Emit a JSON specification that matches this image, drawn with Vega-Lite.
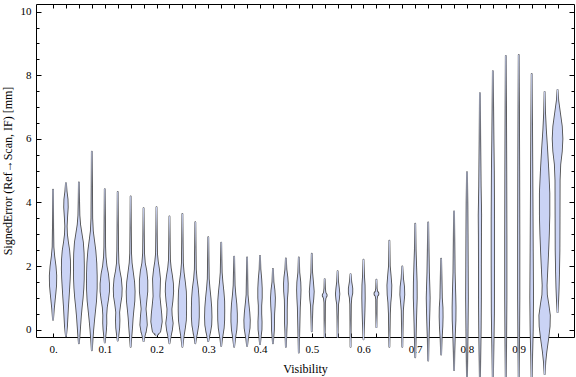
{
"$schema": "https://vega.github.io/schema/vega-lite/v6.json",
"autosize": "none",
"padding": {"left": 36, "top": 4, "right": 2, "bottom": 40},
"width": 538,
"height": 333,
"config": {
  "view": {"stroke": "black", "strokeWidth": 1},
  "axis": {"grid": false, "domain": false, "tickColor": "black", "tickWidth": 1, "labelFont": "Liberation Serif", "labelFontSize": 11, "labelColor": "black", "titleFont": "Liberation Serif", "titleFontSize": 12, "titleFontWeight": "normal", "titleColor": "black", "labelOverlap": false, "labelFlush": false}
},
"data": {"values": [
{"v":0,"y":4.4,"d":0},{"v":0,"y":3.2,"d":0.3},{"v":0,"y":2.6,"d":0.8},{"v":0,"y":2.3,"d":2.5},{"v":0,"y":2.0,"d":5},{"v":0,"y":1.7,"d":6.5},{"v":0,"y":1.4,"d":6.2},{"v":0,"y":1.15,"d":4.8},{"v":0,"y":0.9,"d":3.2},{"v":0,"y":0.65,"d":1.6},{"v":0,"y":0.31,"d":0},
{"v":0.025,"y":4.61,"d":0},{"v":0.025,"y":4.35,"d":1.2},{"v":0.025,"y":4.1,"d":3.2},{"v":0.025,"y":3.85,"d":3.6},{"v":0.025,"y":3.55,"d":2.4},{"v":0.025,"y":3.25,"d":1.4},{"v":0.025,"y":3.0,"d":2},{"v":0.025,"y":2.75,"d":4},{"v":0.025,"y":2.5,"d":6.5},{"v":0.025,"y":2.2,"d":8},{"v":0.025,"y":1.9,"d":8.3},{"v":0.025,"y":1.6,"d":7.6},{"v":0.025,"y":1.3,"d":6.5},{"v":0.025,"y":1.0,"d":5.3},{"v":0.025,"y":0.7,"d":4},{"v":0.025,"y":0.4,"d":3},{"v":0.025,"y":0.1,"d":2},{"v":0.025,"y":-0.21,"d":0},
{"v":0.05,"y":4.63,"d":0},{"v":0.05,"y":4.0,"d":0.5},{"v":0.05,"y":3.6,"d":1},{"v":0.05,"y":3.3,"d":2.5},{"v":0.05,"y":3.05,"d":5},{"v":0.05,"y":2.75,"d":8},{"v":0.05,"y":2.4,"d":9.5},{"v":0.05,"y":2.0,"d":10},{"v":0.05,"y":1.6,"d":9.8},{"v":0.05,"y":1.3,"d":9},{"v":0.05,"y":1.0,"d":7.5},{"v":0.05,"y":0.7,"d":5.5},{"v":0.05,"y":0.4,"d":3.8},{"v":0.05,"y":0.1,"d":2.5},{"v":0.05,"y":-0.2,"d":1.2},{"v":0.05,"y":-0.43,"d":0},
{"v":0.075,"y":5.6,"d":0},{"v":0.075,"y":4.5,"d":0.4},{"v":0.075,"y":3.5,"d":0.8},{"v":0.075,"y":3.1,"d":2},{"v":0.075,"y":2.8,"d":4.5},{"v":0.075,"y":2.5,"d":7},{"v":0.075,"y":2.1,"d":9},{"v":0.075,"y":1.7,"d":9.8},{"v":0.075,"y":1.3,"d":9.8},{"v":0.075,"y":0.9,"d":8.5},{"v":0.075,"y":0.6,"d":6.5},{"v":0.075,"y":0.3,"d":4.5},{"v":0.075,"y":0.0,"d":2.8},{"v":0.075,"y":-0.3,"d":1.4},{"v":0.075,"y":-0.65,"d":0},
{"v":0.1,"y":4.42,"d":0},{"v":0.1,"y":3.5,"d":0.4},{"v":0.1,"y":2.6,"d":0.8},{"v":0.1,"y":2.3,"d":1.5},{"v":0.1,"y":2.0,"d":3.5},{"v":0.1,"y":1.75,"d":6.5},{"v":0.1,"y":1.45,"d":8.5},{"v":0.1,"y":1.2,"d":8.5},{"v":0.1,"y":0.95,"d":6.5},{"v":0.1,"y":0.7,"d":4},{"v":0.1,"y":0.45,"d":3},{"v":0.1,"y":0.2,"d":3.2},{"v":0.1,"y":0.0,"d":2.5},{"v":0.1,"y":-0.2,"d":1.2},{"v":0.1,"y":-0.4,"d":0},
{"v":0.125,"y":4.33,"d":0},{"v":0.125,"y":3.3,"d":0.4},{"v":0.125,"y":2.5,"d":0.8},{"v":0.125,"y":2.1,"d":1.5},{"v":0.125,"y":1.85,"d":3.5},{"v":0.125,"y":1.6,"d":6.5},{"v":0.125,"y":1.3,"d":8},{"v":0.125,"y":1.05,"d":7.5},{"v":0.125,"y":0.8,"d":5},{"v":0.125,"y":0.55,"d":3},{"v":0.125,"y":0.3,"d":3.5},{"v":0.125,"y":0.05,"d":3},{"v":0.125,"y":-0.15,"d":1.5},{"v":0.125,"y":-0.34,"d":0},
{"v":0.15,"y":4.19,"d":0},{"v":0.15,"y":3.2,"d":0.4},{"v":0.15,"y":2.4,"d":0.9},{"v":0.15,"y":2.1,"d":2},{"v":0.15,"y":1.8,"d":4.5},{"v":0.15,"y":1.5,"d":7},{"v":0.15,"y":1.2,"d":8},{"v":0.15,"y":0.9,"d":7.5},{"v":0.15,"y":0.6,"d":5.5},{"v":0.15,"y":0.35,"d":4},{"v":0.15,"y":0.1,"d":3},{"v":0.15,"y":-0.2,"d":1.5},{"v":0.15,"y":-0.54,"d":0},
{"v":0.175,"y":3.82,"d":0},{"v":0.175,"y":3.0,"d":0.5},{"v":0.175,"y":2.4,"d":1},{"v":0.175,"y":2.1,"d":2.5},{"v":0.175,"y":1.85,"d":5.5},{"v":0.175,"y":1.55,"d":7.5},{"v":0.175,"y":1.2,"d":7.5},{"v":0.175,"y":0.9,"d":5.5},{"v":0.175,"y":0.65,"d":4},{"v":0.175,"y":0.4,"d":5.5},{"v":0.175,"y":0.15,"d":6.5},{"v":0.175,"y":-0.05,"d":4.5},{"v":0.175,"y":-0.2,"d":2},{"v":0.175,"y":-0.36,"d":0},
{"v":0.2,"y":3.85,"d":0},{"v":0.2,"y":3.0,"d":0.5},{"v":0.2,"y":2.4,"d":1},{"v":0.2,"y":2.15,"d":2.5},{"v":0.2,"y":1.9,"d":5},{"v":0.2,"y":1.6,"d":7},{"v":0.2,"y":1.3,"d":6.5},{"v":0.2,"y":1.05,"d":6},{"v":0.2,"y":0.8,"d":7.5},{"v":0.2,"y":0.5,"d":9.5},{"v":0.2,"y":0.25,"d":10.5},{"v":0.2,"y":0.0,"d":8},{"v":0.2,"y":-0.1,"d":4},{"v":0.2,"y":-0.18,"d":0},
{"v":0.225,"y":3.56,"d":0},{"v":0.225,"y":2.8,"d":0.5},{"v":0.225,"y":2.2,"d":1},{"v":0.225,"y":1.95,"d":2.5},{"v":0.225,"y":1.7,"d":5},{"v":0.225,"y":1.45,"d":7},{"v":0.225,"y":1.2,"d":7.5},{"v":0.225,"y":0.9,"d":6},{"v":0.225,"y":0.65,"d":4},{"v":0.225,"y":0.45,"d":4.5},{"v":0.225,"y":0.2,"d":6.5},{"v":0.225,"y":0.0,"d":5},{"v":0.225,"y":-0.2,"d":2.5},{"v":0.225,"y":-0.43,"d":0},
{"v":0.25,"y":3.64,"d":0},{"v":0.25,"y":2.8,"d":0.5},{"v":0.25,"y":2.1,"d":1},{"v":0.25,"y":1.8,"d":2.5},{"v":0.25,"y":1.5,"d":5},{"v":0.25,"y":1.2,"d":7},{"v":0.25,"y":0.9,"d":7.5},{"v":0.25,"y":0.6,"d":7.5},{"v":0.25,"y":0.3,"d":7},{"v":0.25,"y":0.05,"d":5},{"v":0.25,"y":-0.2,"d":2.5},{"v":0.25,"y":-0.54,"d":0},
{"v":0.275,"y":3.38,"d":0},{"v":0.275,"y":2.6,"d":0.5},{"v":0.275,"y":1.9,"d":1},{"v":0.275,"y":1.6,"d":2.5},{"v":0.275,"y":1.3,"d":5},{"v":0.275,"y":1.0,"d":6.5},{"v":0.275,"y":0.7,"d":7},{"v":0.275,"y":0.4,"d":7},{"v":0.275,"y":0.15,"d":6},{"v":0.275,"y":-0.1,"d":3.5},{"v":0.275,"y":-0.25,"d":1.5},{"v":0.275,"y":-0.43,"d":0},
{"v":0.3,"y":2.91,"d":0},{"v":0.3,"y":2.2,"d":0.5},{"v":0.3,"y":1.6,"d":1},{"v":0.3,"y":1.3,"d":2.5},{"v":0.3,"y":1.0,"d":4.5},{"v":0.3,"y":0.7,"d":6},{"v":0.3,"y":0.4,"d":6.5},{"v":0.3,"y":0.15,"d":6},{"v":0.3,"y":-0.05,"d":4},{"v":0.3,"y":-0.2,"d":2},{"v":0.3,"y":-0.36,"d":0},
{"v":0.325,"y":2.74,"d":0},{"v":0.325,"y":2.2,"d":0.5},{"v":0.325,"y":1.8,"d":1},{"v":0.325,"y":1.5,"d":2.5},{"v":0.325,"y":1.2,"d":4.5},{"v":0.325,"y":0.9,"d":6},{"v":0.325,"y":0.6,"d":6.2},{"v":0.325,"y":0.3,"d":6},{"v":0.325,"y":0.05,"d":5},{"v":0.325,"y":-0.15,"d":3},{"v":0.325,"y":-0.3,"d":1.5},{"v":0.325,"y":-0.51,"d":0},
{"v":0.35,"y":2.3,"d":0},{"v":0.35,"y":1.8,"d":0.5},{"v":0.35,"y":1.4,"d":1},{"v":0.35,"y":1.1,"d":2.5},{"v":0.35,"y":0.8,"d":4.5},{"v":0.35,"y":0.5,"d":5.5},{"v":0.35,"y":0.25,"d":5.5},{"v":0.35,"y":0.0,"d":4.5},{"v":0.35,"y":-0.2,"d":2.5},{"v":0.35,"y":-0.54,"d":0},
{"v":0.375,"y":2.27,"d":0},{"v":0.375,"y":1.6,"d":0.5},{"v":0.375,"y":1.1,"d":1},{"v":0.375,"y":0.85,"d":2.5},{"v":0.375,"y":0.55,"d":4.5},{"v":0.375,"y":0.3,"d":5.5},{"v":0.375,"y":0.05,"d":5},{"v":0.375,"y":-0.15,"d":3},{"v":0.375,"y":-0.3,"d":1.5},{"v":0.375,"y":-0.51,"d":0},
{"v":0.4,"y":2.32,"d":0},{"v":0.4,"y":1.9,"d":0.8},{"v":0.4,"y":1.6,"d":2.5},{"v":0.4,"y":1.3,"d":3.5},{"v":0.4,"y":1.0,"d":3.5},{"v":0.4,"y":0.75,"d":2.5},{"v":0.4,"y":0.5,"d":2.5},{"v":0.4,"y":0.25,"d":3.2},{"v":0.4,"y":0.0,"d":3},{"v":0.4,"y":-0.2,"d":1.5},{"v":0.4,"y":-0.45,"d":0},
{"v":0.425,"y":1.91,"d":0},{"v":0.425,"y":1.5,"d":1},{"v":0.425,"y":1.25,"d":3},{"v":0.425,"y":1.0,"d":4},{"v":0.425,"y":0.75,"d":3.5},{"v":0.425,"y":0.5,"d":2.5},{"v":0.425,"y":0.25,"d":2.2},{"v":0.425,"y":0.0,"d":2},{"v":0.425,"y":-0.2,"d":1},{"v":0.425,"y":-0.43,"d":0},
{"v":0.45,"y":2.24,"d":0},{"v":0.45,"y":1.9,"d":1},{"v":0.45,"y":1.65,"d":3},{"v":0.45,"y":1.45,"d":3.8},{"v":0.45,"y":1.2,"d":3.5},{"v":0.45,"y":0.95,"d":2.2},{"v":0.45,"y":0.6,"d":1.8},{"v":0.45,"y":0.2,"d":1.8},{"v":0.45,"y":0.0,"d":1.2},{"v":0.45,"y":-0.54,"d":0},
{"v":0.475,"y":2.27,"d":0},{"v":0.475,"y":1.8,"d":1},{"v":0.475,"y":1.5,"d":3},{"v":0.475,"y":1.25,"d":3.5},{"v":0.475,"y":1.0,"d":3},{"v":0.475,"y":0.7,"d":2},{"v":0.475,"y":0.35,"d":1.5},{"v":0.475,"y":0.0,"d":1},{"v":0.475,"y":-0.72,"d":0},
{"v":0.5,"y":2.39,"d":0},{"v":0.5,"y":1.8,"d":0.8},{"v":0.5,"y":1.5,"d":2.5},{"v":0.5,"y":1.2,"d":4},{"v":0.5,"y":0.95,"d":3},{"v":0.5,"y":0.75,"d":1.5},{"v":0.5,"y":0.4,"d":0.8},{"v":0.5,"y":-0.05,"d":0},
{"v":0.525,"y":1.59,"d":0},{"v":0.525,"y":1.3,"d":0.5},{"v":0.525,"y":1.17,"d":1.5},{"v":0.525,"y":1.08,"d":4},{"v":0.525,"y":0.98,"d":1.5},{"v":0.525,"y":0.85,"d":0.5},{"v":0.525,"y":0.3,"d":0.3},{"v":0.525,"y":-0.23,"d":0},
{"v":0.55,"y":1.84,"d":0},{"v":0.55,"y":1.5,"d":1},{"v":0.55,"y":1.3,"d":2.5},{"v":0.55,"y":1.12,"d":3.5},{"v":0.55,"y":0.95,"d":2.5},{"v":0.55,"y":0.8,"d":1},{"v":0.55,"y":0.4,"d":0.4},{"v":0.55,"y":-0.23,"d":0},
{"v":0.575,"y":1.75,"d":0},{"v":0.575,"y":1.5,"d":1.5},{"v":0.575,"y":1.3,"d":3.5},{"v":0.575,"y":1.15,"d":3.5},{"v":0.575,"y":1.0,"d":1.5},{"v":0.575,"y":0.8,"d":0.6},{"v":0.575,"y":0.3,"d":0.3},{"v":0.575,"y":-0.54,"d":0},
{"v":0.6,"y":2.2,"d":0},{"v":0.6,"y":1.7,"d":1},{"v":0.6,"y":1.4,"d":2.2},{"v":0.6,"y":1.0,"d":2.5},{"v":0.6,"y":0.6,"d":2},{"v":0.6,"y":0.2,"d":1.2},{"v":0.6,"y":-0.3,"d":0},
{"v":0.625,"y":1.57,"d":0},{"v":0.625,"y":1.3,"d":0.5},{"v":0.625,"y":1.2,"d":1.5},{"v":0.625,"y":1.13,"d":4},{"v":0.625,"y":1.05,"d":1.5},{"v":0.625,"y":0.95,"d":0.5},{"v":0.625,"y":0.5,"d":0.3},{"v":0.625,"y":0.08,"d":0},
{"v":0.65,"y":2.8,"d":0},{"v":0.65,"y":2.0,"d":0.8},{"v":0.65,"y":1.7,"d":2.5},{"v":0.65,"y":1.4,"d":4},{"v":0.65,"y":1.1,"d":3.5},{"v":0.65,"y":0.85,"d":2},{"v":0.65,"y":0.5,"d":1},{"v":0.65,"y":0.0,"d":0.5},{"v":0.65,"y":-0.54,"d":0},
{"v":0.675,"y":1.99,"d":0},{"v":0.675,"y":1.6,"d":1.5},{"v":0.675,"y":1.35,"d":3.5},{"v":0.675,"y":1.1,"d":4},{"v":0.675,"y":0.85,"d":2.5},{"v":0.675,"y":0.6,"d":1.2},{"v":0.675,"y":0.2,"d":0.8},{"v":0.675,"y":-0.54,"d":0},
{"v":0.7,"y":3.33,"d":0},{"v":0.7,"y":2.5,"d":0.8},{"v":0.7,"y":2.0,"d":1.8},{"v":0.7,"y":1.5,"d":2.8},{"v":0.7,"y":1.0,"d":3},{"v":0.7,"y":0.6,"d":2.2},{"v":0.7,"y":0.2,"d":1.5},{"v":0.7,"y":-0.3,"d":0.8},{"v":0.7,"y":-0.87,"d":0},
{"v":0.725,"y":3.37,"d":0},{"v":0.725,"y":2.5,"d":0.8},{"v":0.725,"y":1.8,"d":1.5},{"v":0.725,"y":1.3,"d":2.5},{"v":0.725,"y":1.0,"d":3},{"v":0.725,"y":0.6,"d":2.5},{"v":0.725,"y":0.2,"d":1.8},{"v":0.725,"y":-0.3,"d":0.8},{"v":0.725,"y":-0.97,"d":0},
{"v":0.75,"y":2.23,"d":0},{"v":0.75,"y":1.6,"d":0.8},{"v":0.75,"y":1.0,"d":1.5},{"v":0.75,"y":0.7,"d":2.8},{"v":0.75,"y":0.4,"d":3},{"v":0.75,"y":0.1,"d":2.5},{"v":0.75,"y":-0.3,"d":1},{"v":0.75,"y":-0.78,"d":0},
{"v":0.775,"y":3.72,"d":0},{"v":0.775,"y":2.8,"d":0.6},{"v":0.775,"y":1.8,"d":1.2},{"v":0.775,"y":1.1,"d":2.5},{"v":0.775,"y":0.7,"d":3},{"v":0.775,"y":0.3,"d":2.8},{"v":0.775,"y":-0.2,"d":1.5},{"v":0.775,"y":-0.7,"d":0.6},{"v":0.775,"y":-1.27,"d":0},
{"v":0.8,"y":4.95,"d":0},{"v":0.8,"y":4.0,"d":0.8},{"v":0.8,"y":3.0,"d":1.2},{"v":0.8,"y":2.0,"d":1.5},{"v":0.8,"y":1.0,"d":1.8},{"v":0.8,"y":0.0,"d":1.2},{"v":0.8,"y":-1.0,"d":0.5},{"v":0.8,"y":-1.6,"d":0},
{"v":0.825,"y":7.44,"d":0},{"v":0.825,"y":6.0,"d":0.6},{"v":0.825,"y":4.5,"d":1.5},{"v":0.825,"y":3.6,"d":2.5},{"v":0.825,"y":3.0,"d":2.2},{"v":0.825,"y":2.0,"d":2},{"v":0.825,"y":1.0,"d":2},{"v":0.825,"y":0.0,"d":1.5},{"v":0.825,"y":-1.0,"d":0.6},{"v":0.825,"y":-1.75,"d":0},
{"v":0.85,"y":8.13,"d":0},{"v":0.85,"y":7.0,"d":0.6},{"v":0.85,"y":6.0,"d":1.2},{"v":0.85,"y":5.0,"d":2},{"v":0.85,"y":3.5,"d":2.5},{"v":0.85,"y":2.0,"d":2.5},{"v":0.85,"y":0.5,"d":2.2},{"v":0.85,"y":-0.5,"d":1.2},{"v":0.85,"y":-1.75,"d":0},
{"v":0.875,"y":8.61,"d":0},{"v":0.875,"y":7.0,"d":0.5},{"v":0.875,"y":5.0,"d":1},{"v":0.875,"y":3.0,"d":1.3},{"v":0.875,"y":1.0,"d":1.3},{"v":0.875,"y":-0.5,"d":0.7},{"v":0.875,"y":-1.75,"d":0},
{"v":0.9,"y":8.64,"d":0},{"v":0.9,"y":7.0,"d":0.5},{"v":0.9,"y":5.0,"d":1},{"v":0.9,"y":3.0,"d":1.3},{"v":0.9,"y":1.0,"d":1.3},{"v":0.9,"y":-0.5,"d":0.7},{"v":0.9,"y":-1.75,"d":0},
{"v":0.925,"y":8.04,"d":0},{"v":0.925,"y":6.5,"d":0.8},{"v":0.925,"y":4.5,"d":1.5},{"v":0.925,"y":2.5,"d":2.2},{"v":0.925,"y":1.0,"d":2.8},{"v":0.925,"y":0.0,"d":2.2},{"v":0.925,"y":-0.8,"d":1},{"v":0.925,"y":-1.75,"d":0},
{"v":0.95,"y":7.48,"d":0},{"v":0.95,"y":6.8,"d":1},{"v":0.95,"y":6.3,"d":2.5},{"v":0.95,"y":5.7,"d":5},{"v":0.95,"y":5.0,"d":7.5},{"v":0.95,"y":4.3,"d":9.5},{"v":0.95,"y":3.6,"d":9.5},{"v":0.95,"y":3.0,"d":8.5},{"v":0.95,"y":2.4,"d":7},{"v":0.95,"y":1.9,"d":5.5},{"v":0.95,"y":1.4,"d":4},{"v":0.95,"y":1.1,"d":4.5},{"v":0.95,"y":0.8,"d":7.5},{"v":0.95,"y":0.45,"d":10.5},{"v":0.95,"y":0.1,"d":10},{"v":0.95,"y":-0.3,"d":7},{"v":0.95,"y":-0.7,"d":3.5},{"v":0.95,"y":-1.0,"d":1.5},{"v":0.95,"y":-1.4,"d":0},
{"v":0.975,"y":7.54,"d":0},{"v":0.975,"y":7.2,"d":1.5},{"v":0.975,"y":6.8,"d":5},{"v":0.975,"y":6.4,"d":8.5},{"v":0.975,"y":6.0,"d":9.8},{"v":0.975,"y":5.6,"d":8.5},{"v":0.975,"y":5.2,"d":5.5},{"v":0.975,"y":4.7,"d":4.2},{"v":0.975,"y":3.5,"d":4},{"v":0.975,"y":2.5,"d":3.8},{"v":0.975,"y":1.8,"d":3},{"v":0.975,"y":1.3,"d":2.2},{"v":0.975,"y":0.9,"d":1.2},{"v":0.975,"y":0.55,"d":0}
]},
"layer": [
 {
  "mark": {"type": "trail", "color": "#4f4f4f", "clip": false},
  "encoding": {
   "x": {"field": "v", "type": "quantitative", "scale": {"domain": [-0.0329, 1.0068], "nice": false, "zero": false},
     "axis": {"orient": "bottom", "offset": -4, "tickSize": 4, "title": "Visibility", "values": [0,0.025,0.05,0.075,0.1,0.125,0.15,0.175,0.2,0.225,0.25,0.275,0.3,0.325,0.35,0.375,0.4,0.425,0.45,0.475,0.5,0.525,0.55,0.575,0.6,0.625,0.65,0.675,0.7,0.725,0.75,0.775,0.8,0.825,0.85,0.875,0.9,0.925,0.95,0.975],
       "labelExpr": "abs(datum.value*10 - round(datum.value*10)) < 0.01 ? (datum.value == 0 ? '0.' : format(datum.value, '.1f')) : ''",
       "labelPadding": 6, "titlePadding": 9}},
   "y": {"field": "y", "type": "quantitative", "scale": {"domain": [-0.23, 10.24], "nice": false, "zero": false},
     "axis": {"orient": "left", "offset": -5, "tickSize": 5, "title": "SignedError (Ref\u2192Scan, IF) [mm]", "values": [0,2,4,6,8,10],
       "labelPadding": 5, "titlePadding": 6}},
   "size": {"field": "d", "type": "quantitative", "scale": {"domain": [0, 12], "range": [1.8, 13.8]}, "legend": null},
   "detail": {"field": "v"},
   "order": {"field": "y"}
  }
 },
 {
  "mark": {"type": "trail", "color": "#cad3f5", "clip": false},
  "encoding": {
   "x": {"field": "v", "type": "quantitative",
     "axis": {"orient": "top", "offset": -4, "tickSize": 4, "title": null, "labels": false, "values": [0,0.025,0.05,0.075,0.1,0.125,0.15,0.175,0.2,0.225,0.25,0.275,0.3,0.325,0.35,0.375,0.4,0.425,0.45,0.475,0.5,0.525,0.55,0.575,0.6,0.625,0.65,0.675,0.7,0.725,0.75,0.775,0.8,0.825,0.85,0.875,0.9,0.925,0.95,0.975]}},
   "y": {"field": "y", "type": "quantitative",
     "axis": {"orient": "right", "offset": -5, "tickSize": 5, "title": null, "labels": false, "values": [0,2,4,6,8,10]}},
   "size": {"field": "d", "type": "quantitative", "scale": {"domain": [0, 12], "range": [0, 12]}, "legend": null},
   "detail": {"field": "v"},
   "order": {"field": "y"}
  }
 },
 {
  "mark": {"type": "point", "opacity": 0},
  "encoding": {
   "x": {"field": "v", "type": "quantitative", "axis": null},
   "y": {"field": "y", "type": "quantitative",
     "axis": {"orient": "left", "offset": -3, "tickSize": 3, "title": null, "labels": false, "values": [0.5,1,1.5,2.5,3,3.5,4.5,5,5.5,6.5,7,7.5,8.5,9,9.5]}}
  }
 },
 {
  "mark": {"type": "point", "opacity": 0},
  "encoding": {
   "x": {"field": "v", "type": "quantitative", "axis": null},
   "y": {"field": "y", "type": "quantitative",
     "axis": {"orient": "right", "offset": -3, "tickSize": 3, "title": null, "labels": false, "values": [0.5,1,1.5,2.5,3,3.5,4.5,5,5.5,6.5,7,7.5,8.5,9,9.5]}}
  }
 }
],
"resolve": {"scale": {"size": "independent"}, "axis": {"x": "independent", "y": "independent"}}
}
